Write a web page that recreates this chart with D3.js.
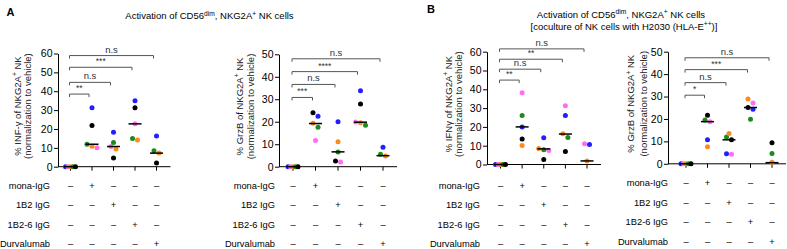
<!DOCTYPE html>
<html>
<head>
<meta charset="utf-8">
<script src="https://cdn.jsdelivr.net/npm/d3@7"></script>
<style>
  body { margin: 0; background: #fff; }
  svg { display: block; font-family: "Liberation Sans", Arial, sans-serif; }
</style>
</head>
<body>
<div id="chart"></div>
<script>
// groups and treatment table
var groups = ["Vehicle", "mona-IgG", "1B2 IgG", "1B2-6 IgG", "Durvalumab"];
var rowLabels = ["mona-IgG", "1B2 IgG", "1B2-6 IgG", "Durvalumab"];
var treatments = [
  [0, 1, 0, 0, 0],
  [0, 0, 1, 0, 0],
  [0, 0, 0, 1, 0],
  [0, 0, 0, 0, 1]
];
// donors: blue, pink, orange, green, black
var donorColors = ["#1f1fff", "#ff6ef0", "#ff8a1c", "#1e8a1e", "#000000"];
var yTicks60 = [0, 10, 20, 30, 40, 50, 60];
var yTicks50 = [0, 10, 20, 30, 40, 50];

// A, IFN-gamma (one row per donor, one value per group)
var ifngA = [
  [0, 31.3, 18.3, 35.0, 16.3],
  [0, 10.0, 10.7, 22.7, null],
  [0, 10.8, 9.4, 14.2, 7.3],
  [0, 11.9, 12.8, 14.9, 8.5],
  [0, 21.8, 4.6, 31.3, 2.0]
];
var ifngAMedian = [0, 11.9, 10.7, 22.7, 7.2];
var ifngASig = ["**", "n.s", "***", "n.s"];
var ifngASigLevel = [38.5, 44.7, 52.7, 58.9];

// A, GrzB
var grzbA = [
  [0, 22.4, 20.0, 33.8, 8.6],
  [0, 11.6, 2.1, 19.9, null],
  [0, 19.3, 11.1, 19.6, 4.8],
  [0, 17.5, 6.5, 18.4, 5.5],
  [0, 24.0, 2.5, 27.9, null]
];
var grzbAMedian = [0, 19.2, 6.6, 19.8, 4.9];
var grzbASig = ["***", "n.s", "****", "n.s"];
var grzbASigLevel = [30.8, 36.6, 42.3, 48.0];

// B, IFN-gamma
var ifngB = [
  [0, 20.0, 14.2, 26.0, 10.6],
  [0, 38.1, 7.4, 31.2, 11.0],
  [0, 10.1, 8.5, 16.3, 1.9],
  [0, 26.0, 7.8, 14.3, null],
  [0, 13.6, 2.7, 6.9, null]
];
var ifngBMedian = [0, 20.0, 8.3, 16.2, 1.9];
var ifngBSig = ["**", "n.s", "**", "n.s"];
var ifngBSigLevel = [44.9, 50.7, 56.0, 61.5];

// B, GrzB
var grzbB = [
  [0, 10.7, 4.5, 24.3, null],
  [0, 18.8, 4.3, 27.1, null],
  [0, 7.6, 13.5, 28.9, 0.7],
  [0, 19.5, 11.9, 19.9, 4.6],
  [0, 21.7, 10.7, 25.1, 9.4]
];
var grzbBMedian = [0, 18.8, 10.7, 25.1, 0.5];
var grzbBSig = ["*", "n.s", "***", "n.s"];
var grzbBSigLevel = [30.6, 36.2, 42.0, 47.3];

var svg = d3.select("#chart").append("svg")
  .attr("width", 787)
  .attr("height", 249);

// text with superscript parts
function richText(sel, parts) {
  parts.forEach(function(p) {
    var t = sel.append("tspan").text(p[0]);
    if (p[1]) t.attr("font-size", "0.7em").attr("dy", -3.5);
    else if (p[2]) t.attr("dy", 3.5);
  });
}

var panels = [
  { values: ifngA, med: ifngAMedian, sig: ifngASig, sigLevel: ifngASigLevel, ticks: yTicks60,
    label: "% INF-γ of NKG2A", axisX: 58, base: 166.7, top: 53.5, gx: [70.5, 156.5],
    titleX: [17.5, 28], rowLabelX: 50, rowY: [185.5, 205, 224.5, 243.5] },
  { values: grzbA, med: grzbAMedian, sig: grzbASig, sigLevel: grzbASigLevel, ticks: yTicks50,
    label: "% GrzB of NKG2A", axisX: 279, base: 166.7, top: 54.3, gx: [293, 383],
    titleX: [239.5, 251], rowLabelX: 275, rowY: [185.5, 205, 224.5, 243.5] },
  { values: ifngB, med: ifngBMedian, sig: ifngBSig, sigLevel: ifngBSigLevel, ticks: yTicks60,
    label: "% IFNγ of NKG2A", axisX: 487, base: 164.5, top: 51.7, gx: [500.5, 587],
    titleX: [448.5, 459], rowLabelX: 480, rowY: [185.5, 205, 224.5, 243.5] },
  { values: grzbB, med: grzbBMedian, sig: grzbBSig, sigLevel: grzbBSigLevel, ticks: yTicks50,
    label: "% GrzB of NKG2A", axisX: 668, base: 163.8, top: 51.7, gx: [686, 772],
    titleX: [631, 644], rowLabelX: 668, rowY: [182.5, 202.3, 221.7, 241.5] }
];

var r = 2.5;

panels.forEach(function(p) {
  var g = svg.append("g");
  var yMax = d3.max(p.ticks);
  var y = d3.scaleLinear().domain([0, yMax]).range([p.base, p.top]);
  var x = d3.scalePoint().domain(groups).range(p.gx);

  // y axis
  var yAxis = g.append("g")
    .attr("transform", "translate(" + p.axisX + ",0)")
    .call(d3.axisLeft(y).tickValues(p.ticks).tickSize(4).tickSizeOuter(0).tickPadding(1.5));
  yAxis.selectAll("text").attr("font-size", 10.5).attr("font-family", "Liberation Sans, Arial, sans-serif").attr("fill", "#000");
  yAxis.selectAll("line, path").attr("stroke", "#000");

  // x axis line + ticks
  g.append("line")
    .attr("x1", p.axisX).attr("x2", p.gx[1] + 14)
    .attr("y1", p.base).attr("y2", p.base)
    .attr("stroke", "#000");
  g.selectAll(".xt").data(groups).enter().append("line")
    .attr("x1", function(d) { return x(d); }).attr("x2", function(d) { return x(d); })
    .attr("y1", p.base).attr("y2", p.base + 4)
    .attr("stroke", "#000");

  // y axis title (two lines)
  var cy = (p.base + p.top) / 2 - 4;
  var t1 = g.append("text")
    .attr("transform", "translate(" + p.titleX[0] + "," + cy + ") rotate(-90)")
    .attr("text-anchor", "middle").attr("dy", "0.35em")
    .attr("font-size", 9.5).attr("fill", "#222");
  richText(t1, [[p.label, false], ["+", true], [" NK", false, true]]);
  g.append("text")
    .attr("transform", "translate(" + p.titleX[1] + "," + cy + ") rotate(-90)")
    .attr("text-anchor", "middle").attr("dy", "0.35em")
    .attr("font-size", 9.5).attr("fill", "#222")
    .text("(normalization to vehicle)");

  // points, arranged in rows per group
  groups.forEach(function(grp, gi) {
    var pts = [];
    p.values.forEach(function(row, di) {
      if (row[gi] != null) pts.push({ v: row[gi], di: di });
    });
    pts.sort(function(a, b) { return a.v - b.v || a.di - b.di; });
    var rows = [];
    pts.forEach(function(pt) {
      var last = rows[rows.length - 1];
      if (last && Math.abs(y(last[0].v) - y(pt.v)) < 2 * r) last.push(pt);
      else rows.push([pt]);
    });
    rows.forEach(function(row) {
      row.sort(function(a, b) { return b.v - a.v || a.di - b.di; });
      var n = row.length;
      var step = n > 1 ? Math.min(5, 10 / (n - 1)) : 0;
      row.forEach(function(pt, j) { pt.dx = (j - (n - 1) / 2) * step; });
    });
    g.selectAll(".dot-" + gi).data(pts).enter().append("circle")
      .attr("cx", function(d) { return x(grp) + d.dx; })
      .attr("cy", function(d) { return y(d.v); })
      .attr("r", r)
      .attr("fill", function(d) { return donorColors[d.di]; });
  });

  // median lines
  g.selectAll(".med").data(p.med).enter().append("line")
    .attr("x1", function(d, i) { return x(groups[i]) - 6.5; })
    .attr("x2", function(d, i) { return x(groups[i]) + 6.5; })
    .attr("y1", function(d) { return y(d); })
    .attr("y2", function(d) { return y(d); })
    .attr("stroke", "#000").attr("stroke-width", 1.5);

  // significance brackets
  p.sig.forEach(function(s, k) {
    var x1 = x(groups[0]) - 1, x2 = x(groups[k + 1]) - 3, yy = y(p.sigLevel[k]);
    g.append("path")
      .attr("d", "M" + x1 + "," + (yy + 3) + "V" + yy + "H" + x2 + "V" + (yy + 3))
      .attr("fill", "none").attr("stroke", "#555").attr("stroke-width", 1);
    g.append("text")
      .attr("x", (x1 + x2) / 2).attr("y", yy - 3)
      .attr("text-anchor", "middle")
      .attr("font-size", s === "n.s" ? 9.5 : 8.5)
      .attr("fill", "#333")
      .text(s);
  });

  // treatment table
  rowLabels.forEach(function(lab, ri) {
    g.append("text")
      .attr("x", p.rowLabelX).attr("y", p.rowY[ri])
      .attr("dy", "0.35em").attr("text-anchor", "end")
      .attr("font-size", 9.3).attr("fill", "#000")
      .text(lab);
    g.selectAll(".sign-" + ri).data(treatments[ri]).enter().append("text")
      .attr("x", function(d, i) { return x(groups[i]); })
      .attr("y", p.rowY[ri])
      .attr("dy", "0.35em").attr("text-anchor", "middle")
      .attr("font-size", 9.3).attr("fill", "#000")
      .text(function(d) { return d ? "+" : "–"; });
  });
});

// panel letters and titles
svg.append("text").attr("x", 6.5).attr("y", 15.5).attr("font-size", 11).attr("font-weight", "bold").text("A");
svg.append("text").attr("x", 427).attr("y", 12.8).attr("font-size", 11).attr("font-weight", "bold").text("B");

var tA = svg.append("text").attr("x", 209.5).attr("y", 19).attr("text-anchor", "middle").attr("font-size", 9.5);
richText(tA, [["Activation of CD56", false], ["dim", true], [", NKG2A", false, true], ["+", true], [" NK cells", false, true]]);
var tB1 = svg.append("text").attr("x", 621).attr("y", 17.5).attr("text-anchor", "middle").attr("font-size", 9.5);
richText(tB1, [["Activation of CD56", false], ["dim", true], [", NKG2A", false, true], ["+", true], [" NK cells", false, true]]);
var tB2 = svg.append("text").attr("x", 624).attr("y", 29.5).attr("text-anchor", "middle").attr("font-size", 9.5);
richText(tB2, [["[coculture of NK cells with H2030 (HLA-E", false], ["++", true], [")]", false, true]]);
</script>
</body>
</html>
